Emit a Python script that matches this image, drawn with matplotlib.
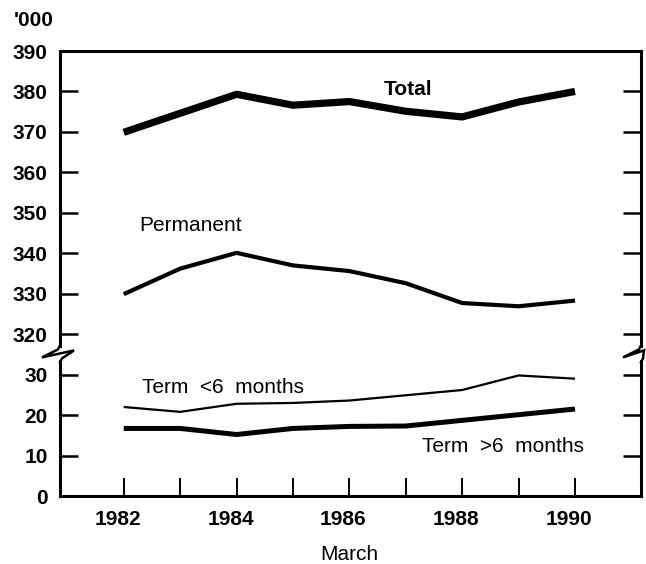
import numpy as np
import matplotlib
matplotlib.use("Agg")
from matplotlib import pyplot as plt
from matplotlib.lines import Line2D
from matplotlib.transforms import ScaledTranslation

plt.rcParams['font.family'] = ['Liberation Sans', 'DejaVu Sans']

# data ('000)
years = [1982, 1983, 1984, 1985, 1986, 1987, 1988, 1989, 1990]
total = [369.9, 374.6, 379.3, 376.6, 377.5, 375.1, 373.7, 377.4, 380.0]
permanent = [329.9, 336.2, 340.1, 337.0, 335.6, 332.6, 327.7, 326.9, 328.3]
term_short = [22.0, 20.8, 22.8, 23.0, 23.6, 24.9, 26.2, 29.8, 29.0]
term_long = [16.7, 16.7, 15.2, 16.7, 17.2, 17.3, 18.7, 20.1, 21.5]

ytick_vals = [0, 10, 20, 30, 320, 330, 340, 350, 360, 370, 380, 390]
xtick_vals = years
xtick_labels = ['1982', '', '1984', '', '1986', '', '1988', '', '1990']


# broken axis: 0-30 and 320-390 on one scale, squeezed gap between
def fwd(v):
    v = np.asarray(v, dtype=float)
    return np.where(v <= 30, v, np.where(v >= 320, v - 280, 30 + (v - 30) * 10 / 290))


def inv(u):
    u = np.asarray(u, dtype=float)
    return np.where(u <= 30, u, np.where(u >= 40, u + 280, 30 + (u - 30) * 29))


W, H = 646, 564
fig = plt.figure(figsize=(W / 100, H / 100), dpi=100)
ax = fig.add_axes([60 / W, 1 - 496 / H, (641 - 60) / W, (496 - 51) / H])
ax.set_yscale('function', functions=(fwd, inv))

ax.plot(years, total, color='black', lw=5.2, solid_capstyle='butt', solid_joinstyle='round')
ax.plot(years, permanent, color='black', lw=3.0, solid_capstyle='butt', solid_joinstyle='round')
ax.plot(years, term_short, color='black', lw=1.6, solid_capstyle='butt', solid_joinstyle='round')
ax.plot(years, term_long, color='black', lw=3.6, solid_capstyle='butt', solid_joinstyle='round')

ax.set_xlim(1980.87, 1991.17)
ax.set_ylim(0, 390)
ax.set_yticks(ytick_vals)
ax.set_yticklabels([str(v) for v in ytick_vals])
ax.set_xticks(xtick_vals)
ax.set_xticklabels(xtick_labels)
ax.minorticks_off()

ax.tick_params(axis='y', direction='in', length=13, width=1.8, left=True, right=True,
               labelsize=15, pad=9)
ax.tick_params(axis='x', direction='in', length=13, width=1.4, top=False,
               labelsize=15, pad=10)
shift = ScaledTranslation(-6 / 100, 0, fig.dpi_scale_trans)
for lab in ax.get_xticklabels():
    lab.set_fontweight('bold')
    lab.set_transform(lab.get_transform() + shift)
for lab in ax.get_yticklabels():
    lab.set_fontweight('bold')

for s in ['top', 'bottom']:
    ax.spines[s].set_linewidth(2.2)
ax.spines['left'].set_visible(False)
ax.spines['right'].set_visible(False)

# left/right spines with a break
ytr = ax.get_yaxis_transform()
for xa in [0, 1]:
    ax.plot([xa, xa], [0, inv(33.3)], color='black', lw=2.2, transform=ytr, clip_on=False,
            solid_capstyle='projecting')
    ax.plot([xa, xa], [inv(37.2), 390], color='black', lw=2.2, transform=ytr, clip_on=False,
            solid_capstyle='projecting')

# zigzag break marks, offsets in pixels (x right, y down) from spine at the break
zig_left = [(0, -9), (-2, -5), (-18, 3), (14, -4), (2, 4), (0, 8)]
zig_right = [(0, -9), (-2, -5), (-18, 3), (3, -4), (2, 4), (0, 8)]
bx0, by = ytr.transform((0, inv(35)))
bx1, _ = ytr.transform((1, inv(35)))
inv_fig = fig.transFigure.inverted()
for bx, zig in [(bx0, zig_left), (bx1, zig_right)]:
    pts = inv_fig.transform([(bx + dx, by - dy) for dx, dy in zig])
    fig.add_artist(Line2D(pts[:, 0], pts[:, 1], color='black', lw=1.8,
                          solid_joinstyle='miter'))

# series labels
ax.text(1987.04, 380.6, 'Total', fontsize=15, fontweight='bold', ha='center', va='center')
ax.text(1982.28, 346.8, 'Permanent', fontsize=15, ha='left', va='center')
ax.text(1982.33, 26.8, 'Term  <6  months', fontsize=15, ha='left', va='center')
ax.text(1987.29, 12.3, 'Term  >6  months', fontsize=15, ha='left', va='center')

fig.text(14 / W, 1 - 21 / H, "'000", fontsize=15, fontweight='bold', ha='left', va='center')
fig.text(349 / W, 1 - 555 / H, 'March', fontsize=15, ha='center', va='center')

fig.savefig('out.png', dpi=100)
